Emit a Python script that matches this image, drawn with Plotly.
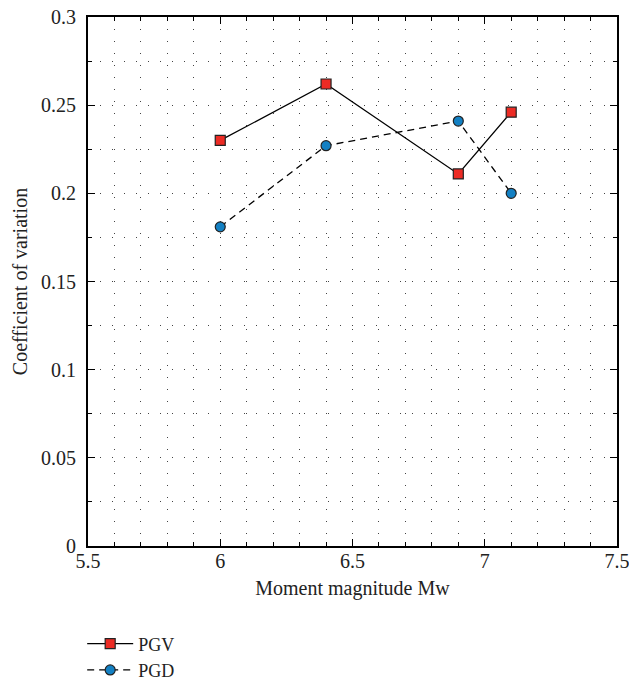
import plotly.graph_objects as go

# Coefficient of variation of ground-motion parameters by earthquake magnitude
magnitude = [6.0, 6.4, 6.9, 7.1]
pgv_cov = [0.230, 0.262, 0.211, 0.246]
pgd_cov = [0.181, 0.227, 0.241, 0.200]

FONT = "Liberation Serif"
TEXT = "#222"
GRID = dict(showgrid=True, gridcolor="#444", gridwidth=1, griddash="1px,11px")

fig = go.Figure()
fig.add_trace(go.Scatter(
    x=magnitude, y=pgv_cov, name="PGV", mode="lines+markers",
    line=dict(color="black", width=1.3),
    marker=dict(symbol="square", size=10, color="#EC2B24",
                line=dict(color="#222", width=1.2)),
))
fig.add_trace(go.Scatter(
    x=magnitude, y=pgd_cov, name="PGD", mode="lines+markers",
    line=dict(color="black", width=1.3, dash="7px,5px"),
    marker=dict(symbol="circle", size=10, color="#1380C3",
                line=dict(color="#222", width=1.2)),
))

axis_common = dict(
    showline=True, linecolor="black", linewidth=2, mirror="allticks",
    ticks="inside", tickcolor="black", tickwidth=1, ticklen=7,
    zeroline=False, tickfont=dict(family=FONT, size=20, color=TEXT),
    automargin=False, ticklabeloverflow="allow",
    **GRID,
)

fig.update_xaxes(
    range=[5.5, 7.5], dtick=0.5, tick0=5.5, ticklabelstandoff=-4,
    minor=dict(dtick=0.1, ticks="inside", ticklen=4, tickcolor="black", **GRID),
    title=dict(text="Moment magnitude Mw", font=dict(family=FONT, size=20, color=TEXT), standoff=10),
    **axis_common,
)
fig.update_yaxes(
    range=[0, 0.3], dtick=0.05, tick0=0, tickformat="~g", ticklabelstandoff=6,
    minor=dict(dtick=0.025, ticks="inside", ticklen=4, tickcolor="black", **GRID),
    title=dict(text="Coefficient of variation", font=dict(family=FONT, size=20, color=TEXT), standoff=8),
    **axis_common,
)

fig.update_layout(
    width=629, height=680,
    margin=dict(l=88, r=12, t=17, b=134, autoexpand=False),
    plot_bgcolor="white", paper_bgcolor="white",
    font=dict(family=FONT, size=20, color=TEXT),
    showlegend=True,
    legend=dict(x=-0.011, xanchor="left", y=-0.15, yanchor="top",
                orientation="v", font=dict(family=FONT, size=18, color=TEXT),
                bgcolor="rgba(0,0,0,0)", tracegroupgap=0, itemwidth=46),
)

fig.write_html("out.html")
